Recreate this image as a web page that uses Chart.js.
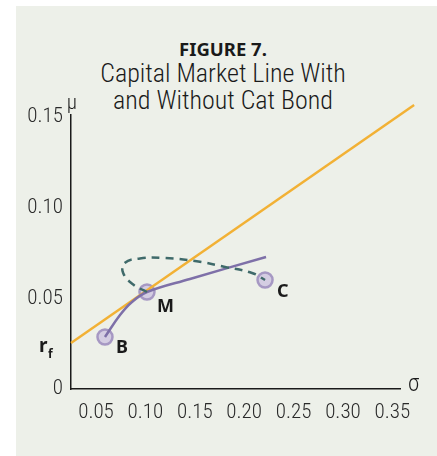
<!DOCTYPE html>
<html>
<head>
<meta charset="utf-8">
<script src="https://cdn.jsdelivr.net/npm/chart.js@4"></script>
<style>
  body { margin: 0; background: #fff; }
  #wrap { position: relative; width: 437px; height: 456px; }
  #panel { position: absolute; left: 16px; top: 6px; width: 421px; height: 450px; background: #edf0e9; }
  .t { position: absolute; left: 16px; width: 414px; text-align: center; color: #1a1a1a; }
  #fig { top: 36px; font: bold 18.5px "Noto Sans", sans-serif; }
  #sub { top: 60px; font: 300 26px/27px "Liberation Sans Narrow", "Roboto Condensed", Roboto, sans-serif; }
  canvas { position: absolute; left: 0; top: 0; }
</style>
</head>
<body>
<div id="wrap">
  <div id="panel"></div>
  <div class="t" id="fig">FIGURE 7.</div>
  <div class="t" id="sub">Capital Market Line With<br>and Without Cat Bond</div>
  <canvas id="chart" width="437" height="456"></canvas>
</div>
<script>
const FONT = "'Liberation Sans Narrow', 'Roboto Condensed', Roboto, sans-serif";

// axis ticks
const xTicks = [0.05, 0.10, 0.15, 0.20, 0.25, 0.30, 0.35];
const yTicks = [0, 0.05, 0.10, 0.15];
const rf = 0.0254;

// capital market line (from rf, tangent at M)
const cmlSigma = [0.0247, 0.372];
const cmlMu = [rf, 0.1566];

// frontier without cat bond (B -> M -> beyond)
const frontSigma = [0.0591, 0.0743, 0.0864, 0.1016, 0.1451, 0.2221];
const frontMu = [0.0287, 0.0408, 0.0480, 0.0535, 0.0607, 0.0728];

// frontier with cat bond (dashed loop M -> C)
const catSigma = [0.1016, 0.0880, 0.0775, 0.0790, 0.0945, 0.1198, 0.1502, 0.1806, 0.2079, 0.2211];
const catMu = [0.0535, 0.0575, 0.0640, 0.0695, 0.0720, 0.0722, 0.0706, 0.0673, 0.0640, 0.0601];

// assets
const assetNames = ["B", "M", "C"];
const assetSigma = [0.0591, 0.1016, 0.2211];
const assetMu = [0.0287, 0.0535, 0.0601];

const pts = (xs, ys) => xs.map((x, i) => ({ x: x, y: ys[i] }));

const labelsPlugin = {
    id: "labels",
    afterDatasetsDraw(chart) {
        const ctx = chart.ctx;
        const xs = chart.scales.x, ys = chart.scales.y;
        ctx.save();
        ctx.fillStyle = "#1a1a1a";
        ctx.textBaseline = "middle";
        ctx.textAlign = "left";
        ctx.font = "bold 18px 'Noto Sans'";
        const off = [[11, 11], [10, 15], [12, 12]];
        assetNames.forEach((n, i) => {
            ctx.fillText(n, xs.getPixelForValue(assetSigma[i]) + off[i][0], ys.getPixelForValue(assetMu[i]) + off[i][1]);
        });
        // r_f
        const ry = ys.getPixelForValue(rf);
        ctx.font = "bold 19px 'Noto Sans'";
        ctx.fillText("r", 39, ry + 4);
        ctx.font = "bold 12px 'Noto Sans'";
        ctx.fillText("f", 48, ry + 12);
        // axis symbols
        ctx.font = "300 21px " + FONT;
        ctx.textAlign = "center";
        ctx.fillText("\u03bc", chart.chartArea.left + 1, chart.chartArea.top - 11);
        ctx.textAlign = "left";
        ctx.font = "300 23px " + FONT;
        ctx.fillText("\u03c3", chart.chartArea.right + 8, chart.chartArea.bottom - 4);
        ctx.restore();
    }
};

new Chart(document.getElementById("chart"), {
    type: "scatter",
    data: {
        datasets: [
            {
                data: pts(catSigma, catMu),
                showLine: true, tension: 0.45,
                borderColor: "#3f6a6a", borderWidth: 2.5, borderDash: [8, 6],
                pointRadius: 0
            },
            {
                data: pts(frontSigma, frontMu),
                showLine: true, tension: 0.4,
                borderColor: "#7e70a8", borderWidth: 2.5,
                pointRadius: 0
            },
            {
                data: pts(cmlSigma, cmlMu),
                showLine: true,
                borderColor: "#f2b135", borderWidth: 2.5,
                pointRadius: 0
            },
            {
                data: pts(assetSigma, assetMu),
                pointRadius: 7.5,
                backgroundColor: "#d4cde2",
                borderColor: "#a698c3",
                borderWidth: 2.5
            },
            {
                data: pts(assetSigma, assetMu),
                pointRadius: 2,
                backgroundColor: "#ffffff",
                borderWidth: 0
            }
        ]
    },
    options: {
        responsive: false,
        animation: false,
        clip: false,
        layout: { padding: { left: 0, top: 115, right: 37, bottom: 0 } },
        plugins: { legend: { display: false }, tooltip: { enabled: false } },
        scales: {
            x: {
                type: "linear", min: 0.0247, max: 0.3577,
                afterBuildTicks: s => { s.ticks = xTicks.map(v => ({ value: v })); },
                afterFit: s => { s.height = 67; },
                grid: { display: false, drawTicks: false },
                border: { color: "#1a1a1a", width: 1.5 },
                ticks: {
                    padding: 11, color: "#2a2a2a",
                    font: { family: FONT, size: 21, weight: 300 },
                    callback: v => v.toFixed(2)
                }
            },
            y: {
                type: "linear", min: 0, max: 0.1511,
                afterBuildTicks: s => { s.ticks = yTicks.map(v => ({ value: v })); },
                afterFit: s => { s.width = 71; },
                grid: { display: false, drawTicks: false },
                border: { color: "#1a1a1a", width: 1.5 },
                ticks: {
                    padding: 8, color: "#2a2a2a",
                    font: { family: FONT, size: 21, weight: 300 },
                    callback: v => v === 0 ? "0" : v.toFixed(2)
                }
            }
        }
    },
    plugins: [labelsPlugin]
});
</script>
</body>
</html>
